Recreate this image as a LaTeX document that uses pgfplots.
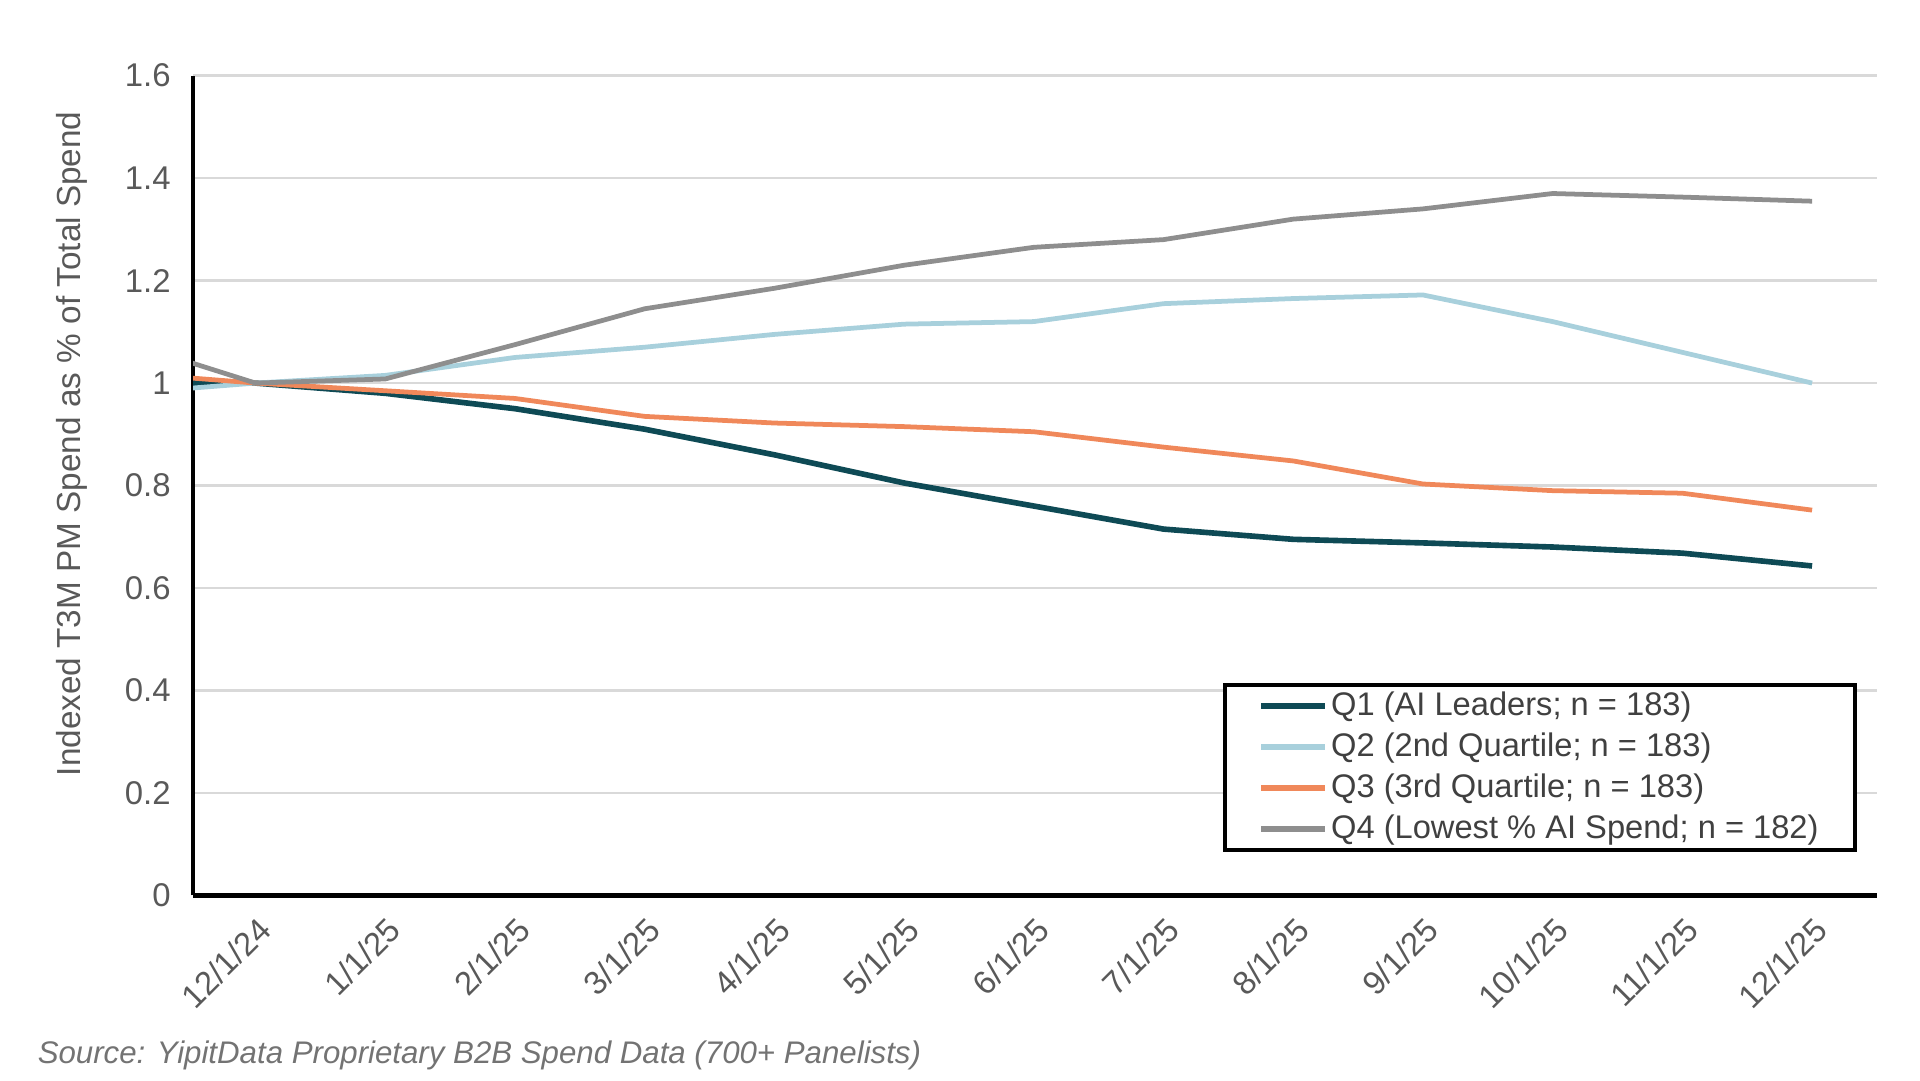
\documentclass[border=0pt]{standalone}
\usepackage{fontspec}
\setmainfont{Liberation Sans}
\usepackage{pgfplots}
\pgfplotsset{compat=1.18}
\usepackage{pgfplotstable}
\definecolor{qone}{HTML}{0E4A55}
\definecolor{qtwo}{HTML}{A8D0DC}
\definecolor{qthree}{HTML}{F0885A}
\definecolor{qfour}{HTML}{8E8E8E}
\definecolor{txt}{HTML}{595959}
\definecolor{legtxt}{HTML}{404040}

\pgfplotstableread{
x q1 q2 q3 q4
-1 1.000 0.980 1.020 1.080
0 1.000 1.000 1.000 1.000
1 0.980 1.015 0.985 1.008
2 0.950 1.050 0.970 1.075
3 0.910 1.070 0.935 1.145
4 0.860 1.095 0.922 1.185
5 0.805 1.115 0.915 1.230
6 0.760 1.120 0.905 1.265
7 0.715 1.155 0.875 1.280
8 0.695 1.165 0.848 1.320
9 0.688 1.172 0.803 1.340
10 0.680 1.120 0.790 1.370
11 0.668 1.060 0.785 1.363
12 0.643 1.000 0.752 1.355
}\data

\begin{document}
\begin{tikzpicture}
\useasboundingbox (0,0) rectangle (156mm,87.75mm);
\begin{axis}[
  at={(15.7mm,15.0mm)}, anchor=south west,
  scale only axis, width=136.8mm, height=66.6mm,
  xmin=-0.48, xmax=12.5, ymin=0, ymax=1.6,
  axis x line=bottom, axis y line=left,
  axis line style={-, black, line width=1pt},
  ytick={0,0.2,0.4,0.6,0.8,1,1.2,1.4,1.6},
  yticklabels={0,0.2,0.4,0.6,0.8,1,1.2,1.4,1.6},
  xtick={0,1,2,3,4,5,6,7,8,9,10,11,12},
  xticklabels={12/1/24,1/1/25,2/1/25,3/1/25,4/1/25,5/1/25,6/1/25,7/1/25,8/1/25,9/1/25,10/1/25,11/1/25,12/1/25},
  major tick length=0pt,
  ymajorgrids, grid style={draw=black!15, line width=0.6pt},
  tick label style={font=\fontsize{7.6}{9}\selectfont, text=txt},
  xticklabel style={rotate=45, anchor=north east, inner sep=1pt, yshift=-0.8mm, xshift=-0.7mm},
  yticklabel style={anchor=east, xshift=-0.6mm},
  ylabel={Indexed T3M PM Spend as \% of Total Spend},
  ylabel style={at={(axis description cs:-0.072,0.551)}, anchor=center, font=\fontsize{7.7}{9}\selectfont, text=txt},
  legend style={at={(axis description cs:0.6115,0.259)}, anchor=north west,
    draw=black, line width=0.9pt, inner xsep=2.7mm, inner ysep=0mm, row sep=0pt,
    font=\fontsize{7.55}{9}\selectfont, text=legtxt,
    nodes={inner xsep=0.25mm, inner ysep=0.15mm, text height=2.3mm, text depth=0.75mm, anchor=west}},
  legend cell align=left,
  legend image code/.code={\draw[#1, line width=1.4pt] (0mm,0mm) -- (5.2mm,0mm);},
]
\addplot[qone, line width=1.3pt] table[x=x, y=q1] {\data};
\addlegendentry{Q1 (AI Leaders; n = 183)}
\addplot[qtwo, line width=1.1pt] table[x=x, y=q2] {\data};
\addlegendentry{Q2 (2nd Quartile; n = 183)}
\addplot[qthree, line width=1.1pt] table[x=x, y=q3] {\data};
\addlegendentry{Q3 (3rd Quartile; n = 183)}
\addplot[qfour, line width=1.1pt] table[x=x, y=q4] {\data};
\addlegendentry{Q4 (Lowest \% AI Spend; n = 182)}
\end{axis}
\node[anchor=west, inner sep=0pt, font=\itshape\fontsize{7.22}{9}\selectfont, text=black!55] at (3.0mm, 2.0mm) {Source: YipitData Proprietary B2B Spend Data (700+ Panelists)};
\end{tikzpicture}
\end{document}
